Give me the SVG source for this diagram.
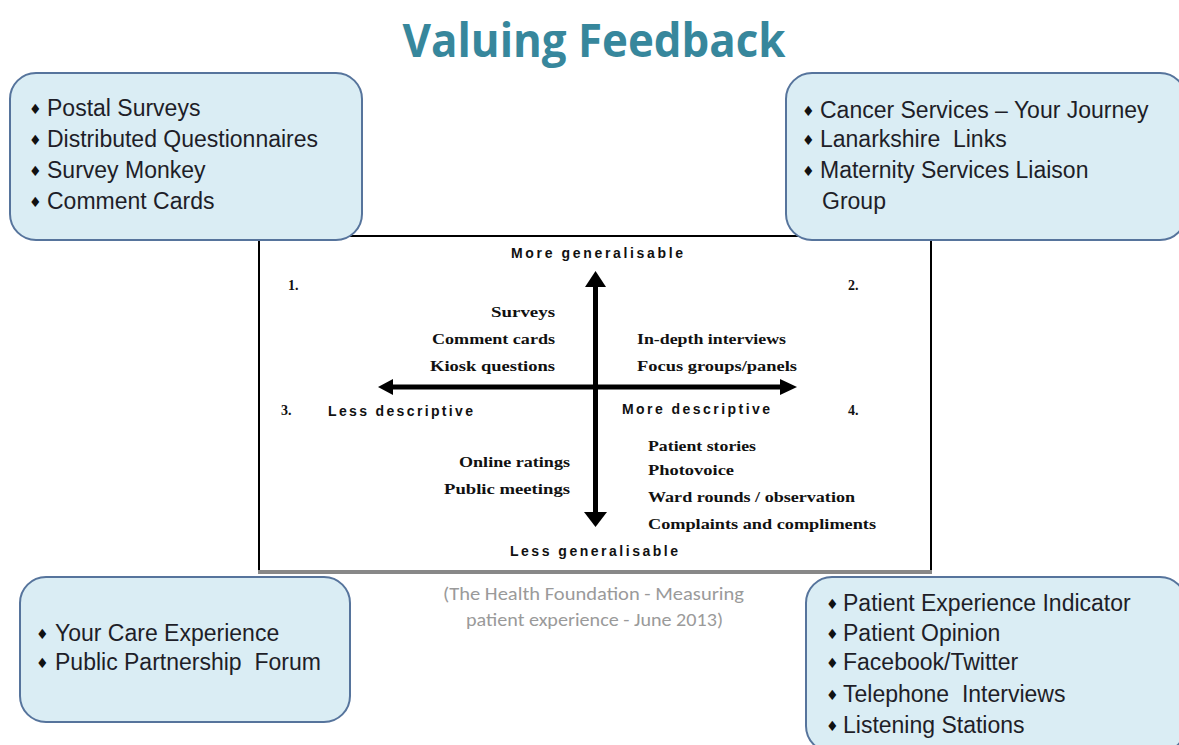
<svg xmlns="http://www.w3.org/2000/svg" width="1179" height="745" viewBox="0 0 1179 745">
<style>
.box{fill:#daedf4;stroke:#56749c;stroke-width:2}
.bt{font-family:"Liberation Sans",Arial,sans-serif;font-size:23px;fill:#1e1e28;white-space:pre}
.bl{font-family:"DejaVu Sans",sans-serif;font-size:14px;fill:#111}
.q{font-family:"Liberation Serif","Times New Roman",serif;font-weight:bold;font-size:14px;fill:#111}
.qs{font-family:"Liberation Sans",Arial,sans-serif;font-weight:bold;font-size:14px;fill:#111}
.r{text-anchor:end}
.ax{stroke:#000;stroke-width:5}
</style>
<rect width="1179" height="745" fill="#fff"/>
<text x="594" y="57" text-anchor="middle" font-family="'Open Sans','Noto Sans',sans-serif" font-weight="bold" font-size="46" fill="#37879c" textLength="383" lengthAdjust="spacingAndGlyphs">Valuing Feedback</text>

<g id="matrix">
<rect x="259" y="236" width="672" height="335" fill="#fff" stroke="#000" stroke-width="2"/>
<line x1="258" y1="572" x2="932" y2="572" stroke="#888" stroke-width="4"/>
</g>

<g id="connectors">
<line class="ax" x1="595.5" y1="285" x2="595.5" y2="514"/>
<polygon points="595.5,271 606,287 585,287"/>
<polygon points="595.5,527 607,512 584,512"/>
<line class="ax" x1="391" y1="387" x2="782" y2="387"/>
<polygon points="378,387 393,379 393,395"/>
<polygon points="797,387 780,379 780,395"/>
</g>

<g id="matrix-labels">
<text class="qs" x="597" y="258" text-anchor="middle" textLength="172" lengthAdjust="spacing">More generalisable</text>
<text class="q" x="288" y="290">1.</text>
<text class="q" x="848" y="290">2.</text>
<text class="q r" x="555" y="317" textLength="64" lengthAdjust="spacingAndGlyphs">Surveys</text>
<text class="q r" x="555" y="344" textLength="123" lengthAdjust="spacingAndGlyphs">Comment cards</text>
<text class="q r" x="555" y="371" textLength="125" lengthAdjust="spacingAndGlyphs">Kiosk questions</text>
<text class="q" x="637" y="344" textLength="149" lengthAdjust="spacingAndGlyphs">In-depth interviews</text>
<text class="q" x="637" y="371" textLength="160" lengthAdjust="spacingAndGlyphs">Focus groups/panels</text>
<text class="q" x="281" y="415">3.</text>
<text class="qs" x="328" y="416" textLength="145" lengthAdjust="spacing">Less descriptive</text>
<text class="qs" x="622" y="414" textLength="148" lengthAdjust="spacing">More descriptive</text>
<text class="q" x="848" y="415">4.</text>
<text class="q" x="648" y="451" textLength="108" lengthAdjust="spacingAndGlyphs">Patient stories</text>
<text class="q" x="648" y="475" textLength="86" lengthAdjust="spacingAndGlyphs">Photovoice</text>
<text class="q" x="648" y="502" textLength="207" lengthAdjust="spacingAndGlyphs">Ward rounds / observation</text>
<text class="q" x="648" y="529" textLength="228" lengthAdjust="spacingAndGlyphs">Complaints and compliments</text>
<text class="q r" x="570" y="467" textLength="111" lengthAdjust="spacingAndGlyphs">Online ratings</text>
<text class="q r" x="570" y="494" textLength="126" lengthAdjust="spacingAndGlyphs">Public meetings</text>
<text class="qs" x="594" y="556" text-anchor="middle" textLength="168" lengthAdjust="spacing">Less generalisable</text>
</g>

<g id="citation" font-family="Carlito,'Open Sans',sans-serif" font-size="18" fill="#9a9a9a" style="white-space:pre">
<text x="443" y="600" textLength="301" lengthAdjust="spacingAndGlyphs">(The Health Foundation  - Measuring</text>
<text x="466" y="626" textLength="257" lengthAdjust="spacingAndGlyphs">patient experience - June 2013)</text>
</g>

<g id="box-top-left">
<rect class="box" x="10" y="73" width="352" height="167" rx="26"/>
<text class="bt"><tspan class="bl" x="29" y="114">♦</tspan><tspan x="47" y="116">Postal Surveys</tspan></text>
<text class="bt"><tspan class="bl" x="29" y="145">♦</tspan><tspan x="47" y="147">Distributed Questionnaires</tspan></text>
<text class="bt"><tspan class="bl" x="29" y="176">♦</tspan><tspan x="47" y="178">Survey Monkey</tspan></text>
<text class="bt"><tspan class="bl" x="29" y="207">♦</tspan><tspan x="47" y="209">Comment Cards</tspan></text>
</g>

<g id="box-top-right">
<rect class="box" x="786" y="73" width="400" height="167" rx="26"/>
<text class="bt"><tspan class="bl" x="802" y="116">♦</tspan><tspan x="820" y="118">Cancer Services – Your Journey</tspan></text>
<text class="bt"><tspan class="bl" x="802" y="145">♦</tspan><tspan x="820" y="147">Lanarkshire  Links</tspan></text>
<text class="bt"><tspan class="bl" x="802" y="176">♦</tspan><tspan x="820" y="178">Maternity Services Liaison</tspan></text>
<text class="bt" x="822" y="209">Group</text>
</g>

<g id="box-bottom-left">
<rect class="box" x="20" y="577" width="330" height="145" rx="26"/>
<text class="bt"><tspan class="bl" x="36" y="639">♦</tspan><tspan x="55" y="641">Your Care Experience</tspan></text>
<text class="bt"><tspan class="bl" x="36" y="668">♦</tspan><tspan x="55" y="670">Public Partnership  Forum</tspan></text>
</g>

<g id="box-bottom-right">
<rect class="box" x="806" y="577" width="380" height="175" rx="26"/>
<text class="bt"><tspan class="bl" x="826" y="609">♦</tspan><tspan x="843" y="611">Patient Experience Indicator</tspan></text>
<text class="bt"><tspan class="bl" x="826" y="639">♦</tspan><tspan x="843" y="641">Patient Opinion</tspan></text>
<text class="bt"><tspan class="bl" x="826" y="668">♦</tspan><tspan x="843" y="670">Facebook/Twitter</tspan></text>
<text class="bt"><tspan class="bl" x="826" y="700">♦</tspan><tspan x="843" y="702">Telephone  Interviews</tspan></text>
<text class="bt"><tspan class="bl" x="826" y="731">♦</tspan><tspan x="843" y="733">Listening Stations</tspan></text>
</g>
</svg>
